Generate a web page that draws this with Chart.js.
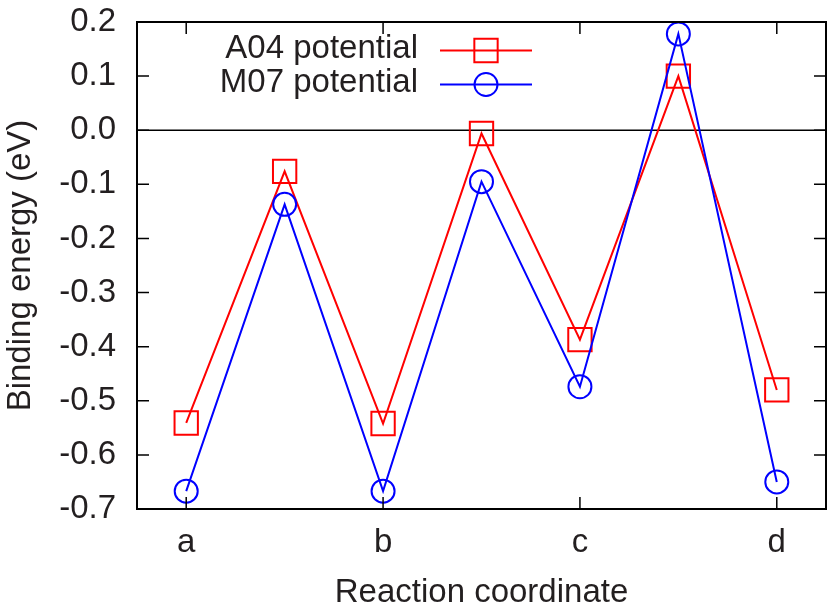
<!DOCTYPE html>
<html>
<head>
<meta charset="utf-8">
<script src="https://cdn.jsdelivr.net/npm/chart.js@4/dist/chart.umd.min.js"></script>
<style>
  html, body { margin: 0; padding: 0; background: #fff; }
</style>
</head>
<body>
<canvas id="myChart" width="830" height="606"></canvas>
<script>
// stati lungo la coordinata di reazione
const stepLabels = ['a', 'b', 'c', 'd'];
const stepPositions = [0, 1, 2, 3];
const pathX = [0, 0.5, 1, 1.5, 2, 2.5, 3];

// energie di legame (eV)
const a04 = [-0.541, -0.076, -0.542, -0.006, -0.387, 0.100, -0.480];
const m07 = [-0.667, -0.137, -0.667, -0.095, -0.474, 0.178, -0.650];

const yTicks = [0.2, 0.1, 0.0, -0.1, -0.2, -0.3, -0.4, -0.5, -0.6, -0.7];

const seriesNames = ['A04 potential', 'M07 potential'];
const seriesColors = ['#ff0000', '#0000ff'];
const seriesStyles = ['rect', 'circle'];
const seriesRadius = [16.5, 11.5];

const FONT = '"Liberation Sans", Arial, sans-serif';
const FSIZE = 33;
const TEXT = '#231f20';

function toPoints(values) {
  return values.map((v, i) => ({ x: pathX[i], y: v }));
}

function marker(ctx, style, x, y, r) {
  ctx.beginPath();
  if (style === 'rect') {
    const s = r * Math.SQRT1_2;
    ctx.rect(x - s, y - s, 2 * s, 2 * s);
  } else {
    ctx.arc(x, y, r, 0, 2 * Math.PI);
  }
  ctx.stroke();
}

// linea dello zero
const zeroLine = {
  id: 'zeroLine',
  beforeDatasetsDraw(chart) {
    const { ctx, chartArea, scales } = chart;
    const y0 = scales.y.getPixelForValue(0);
    ctx.save();
    ctx.strokeStyle = '#000';
    ctx.lineWidth = 1.5;
    ctx.beginPath();
    ctx.moveTo(chartArea.left, y0);
    ctx.lineTo(chartArea.right, y0);
    ctx.stroke();
    ctx.restore();
  }
};

// cornice con tacche verso l'interno, stile gnuplot
const frameTicks = {
  id: 'frameTicks',
  afterDraw(chart) {
    const { ctx, chartArea, scales } = chart;
    const { left, right, top, bottom } = chartArea;
    const len = 12;
    ctx.save();
    ctx.strokeStyle = '#000';
    ctx.lineWidth = 1.5;
    ctx.beginPath();
    scales.y.ticks.forEach(t => {
      const py = scales.y.getPixelForValue(t.value);
      ctx.moveTo(left, py); ctx.lineTo(left + len, py);
      ctx.moveTo(right, py); ctx.lineTo(right - len, py);
    });
    scales.x.ticks.forEach(t => {
      const px = scales.x.getPixelForValue(t.value);
      ctx.moveTo(px, bottom); ctx.lineTo(px, bottom - len);
      ctx.moveTo(px, top); ctx.lineTo(px, top + len);
    });
    ctx.stroke();
    ctx.lineWidth = 2;
    ctx.strokeRect(left, top, right - left, bottom - top);
    ctx.restore();
  }
};

// legenda: testo a sinistra, campione a destra
const sideLegend = {
  id: 'sideLegend',
  afterDraw(chart) {
    const ctx = chart.ctx;
    const textRight = 418;
    const lineFrom = 440, lineTo = 532, mid = 486;
    const baselines = [58, 92];
    ctx.save();
    ctx.font = FSIZE + 'px ' + FONT;
    ctx.fillStyle = TEXT;
    ctx.textAlign = 'right';
    ctx.textBaseline = 'alphabetic';
    seriesNames.forEach((name, i) => {
      const by = baselines[i];
      ctx.fillText(name, textRight, by);
      const ly = by - 7.5;
      ctx.strokeStyle = seriesColors[i];
      ctx.lineWidth = 2;
      ctx.beginPath();
      ctx.moveTo(lineFrom, ly);
      ctx.lineTo(lineTo, ly);
      ctx.stroke();
      marker(ctx, seriesStyles[i], mid, ly, seriesRadius[i]);
    });
    ctx.restore();
  }
};

function makeDataset(i, values, order) {
  return {
    label: seriesNames[i],
    data: toPoints(values),
    borderColor: seriesColors[i],
    backgroundColor: 'rgba(0,0,0,0)',
    borderWidth: 2,
    pointStyle: seriesStyles[i],
    pointRadius: seriesRadius[i],
    pointBorderWidth: 2,
    pointBorderColor: seriesColors[i],
    pointBackgroundColor: 'rgba(0,0,0,0)',
    tension: 0,
    clip: false,
    order: order
  };
}

const myChart = new Chart(document.getElementById('myChart'), {
  type: 'line',
  data: {
    datasets: [
      makeDataset(0, a04, 1),
      makeDataset(1, m07, 0)
    ]
  },
  options: {
    responsive: false,
    animation: false,
    events: [],
    layout: { autoPadding: false, padding: { top: 22, right: 4, left: 0, bottom: 0 } },
    plugins: {
      legend: { display: false },
      tooltip: { enabled: false }
    },
    scales: {
      x: {
        type: 'linear',
        min: -0.25,
        max: 3.25,
        grid: { display: false, drawTicks: false },
        border: { display: false },
        afterBuildTicks: scale => {
          scale.ticks = stepPositions.map(v => ({ value: v }));
        },
        afterFit: scale => {
          scale.height = 97;
          scale.paddingLeft = 0;
          scale.paddingRight = 0;
        },
        ticks: {
          padding: 14,
          autoSkip: false,
          maxRotation: 0,
          color: TEXT,
          font: { family: FONT, size: FSIZE },
          callback: v => stepLabels[stepPositions.indexOf(v)]
        },
        title: {
          display: true,
          text: 'Reaction coordinate',
          color: TEXT,
          padding: 0,
          font: { family: FONT, size: FSIZE, lineHeight: 0.8 }
        }
      },
      y: {
        min: -0.7,
        max: 0.2,
        grid: { display: false, drawTicks: false },
        border: { display: false },
        afterBuildTicks: scale => {
          scale.ticks = yTicks.map(v => ({ value: v }));
        },
        afterFit: scale => {
          scale.width = 137;
          scale.paddingTop = 0;
          scale.paddingBottom = 0;
        },
        ticks: {
          padding: 21,
          color: TEXT,
          font: { family: FONT, size: FSIZE },
          callback: v => v.toFixed(1)
        },
        title: {
          display: true,
          text: 'Binding energy (eV)',
          color: TEXT,
          padding: { top: 1, bottom: 0 },
          font: { family: FONT, size: FSIZE }
        }
      }
    }
  },
  plugins: [zeroLine, frameTicks, sideLegend]
});
</script>
</body>
</html>
